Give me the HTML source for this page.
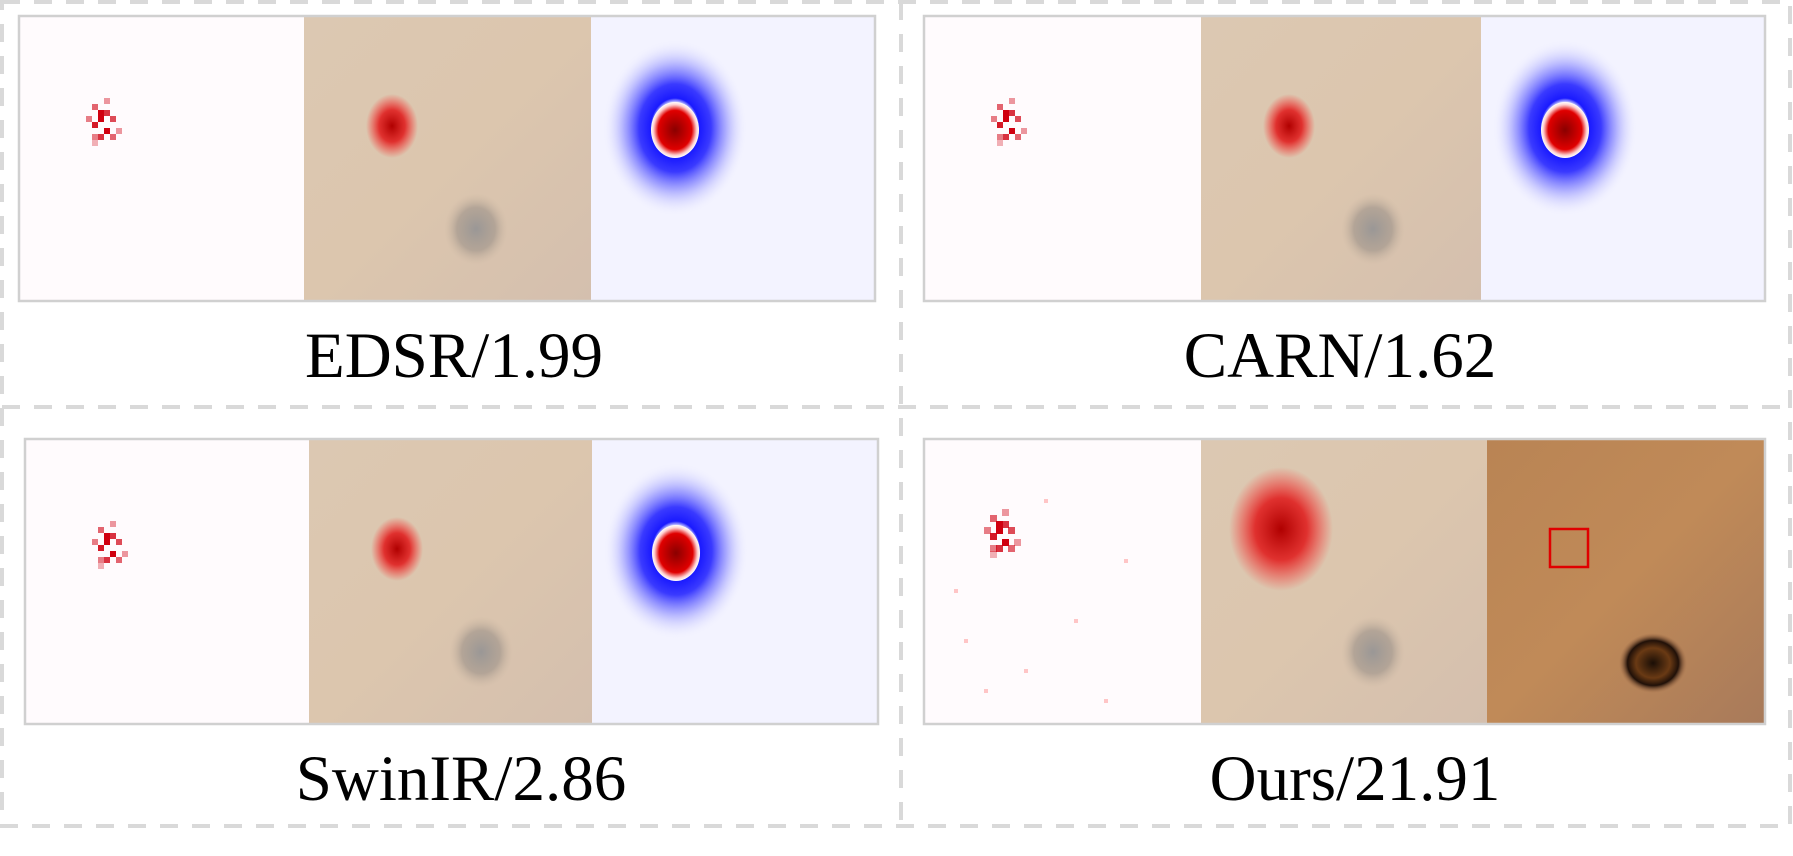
<!DOCTYPE html>
<html><head><meta charset="utf-8"><style>
html,body{margin:0;padding:0;background:#fff;}
svg{display:block;}
text{font-family:"Liberation Serif",serif;font-size:65px;fill:#000;}
</style></head><body>
<svg id="fig" width="1793" height="856" viewBox="0 0 1793 856" xmlns="http://www.w3.org/2000/svg">
<defs>
  <radialGradient id="redDot"><stop offset="0" stop-color="#b00000"/><stop offset="0.5" stop-color="#e02020" stop-opacity="0.9"/><stop offset="1" stop-color="#ff3030" stop-opacity="0"/></radialGradient>
  <radialGradient id="blueHalo"><stop offset="0.28" stop-color="#ffffff"/><stop offset="0.34" stop-color="#1a1aff"/><stop offset="0.5" stop-color="#3a3aff"/><stop offset="0.7" stop-color="#8a8aff" stop-opacity="0.7"/><stop offset="1" stop-color="#eeeeff" stop-opacity="0"/></radialGradient>
  <radialGradient id="redCore"><stop offset="0" stop-color="#8a0000"/><stop offset="0.7" stop-color="#e00000"/><stop offset="0.9" stop-color="#ffd0d0"/><stop offset="1" stop-color="#ffffff"/></radialGradient>
  <linearGradient id="fur" x1="0" y1="0" x2="1" y2="1"><stop offset="0" stop-color="#dcc8b2"/><stop offset="0.5" stop-color="#dcc6ae"/><stop offset="1" stop-color="#d4bfae"/></linearGradient>
  <linearGradient id="foxfur" x1="0" y1="0" x2="1" y2="1"><stop offset="0" stop-color="#b98454"/><stop offset="0.5" stop-color="#c08a58"/><stop offset="1" stop-color="#a87a5a"/></linearGradient>
  <radialGradient id="eye"><stop offset="0" stop-color="#8a8c90" stop-opacity="0.8"/><stop offset="0.6" stop-color="#9a9088" stop-opacity="0.6"/><stop offset="1" stop-color="#c8b4a0" stop-opacity="0"/></radialGradient>
  <radialGradient id="foxeye"><stop offset="0" stop-color="#1a0e06"/><stop offset="0.5" stop-color="#6a3a14"/><stop offset="0.75" stop-color="#201008"/><stop offset="1" stop-color="#a06a45" stop-opacity="0"/></radialGradient>
</defs>
<g fill="none" stroke="#d9d9d9" stroke-width="4" stroke-dasharray="18 14">
  <rect x="2" y="2" width="1788" height="824"/>
  <line x1="901" y1="2" x2="901" y2="826"/>
  <line x1="2" y1="407" x2="1790" y2="407"/>
</g>
<g id="panels"></g>
<text x="454" y="377" text-anchor="middle">EDSR/1.99</text>
<text x="1340" y="377" text-anchor="middle">CARN/1.62</text>
<text x="461" y="800" text-anchor="middle">SwinIR/2.86</text>
<text x="1355" y="800" text-anchor="middle">Ours/21.91</text>
</svg>
<script>
const NS="http://www.w3.org/2000/svg";
const root=document.getElementById('panels');
function mk(tag,attrs,parent){const e=document.createElementNS(NS,tag);for(const k in attrs)e.setAttribute(k,attrs[k]);(parent||root).appendChild(e);return e;}
const panels=[
 {name:'edsr',y:16,subs:[19,304,591,875],ours:false},
 {name:'carn',y:16,subs:[924,1201,1481,1765],ours:false},
 {name:'swinir',y:439,subs:[25,309,592,878],ours:false},
 {name:'ours',y:439,subs:[924,1201,1487,1765],ours:true}
];
const H=285;
const cluster=[[0,0,1],[6,-6,.8],[-6,6,.9],[6,12,1],[-6,-12,.6],[12,0,.7],[0,18,.8],[-12,0,.5],[12,18,.6],[6,-18,.4],[-6,24,.3],[18,12,.4],[0,-6,1],[-6,18,.5]];
panels.forEach(p=>{
  const g=mk('g',{});
  
  
  const [a,b,c,d]=p.subs, y=p.y;
  mk('rect',{x:a,y:y,width:b-a,height:H,fill:'#fffbfd'},g);
  const cx=a+(p.ours?82:89), cy=y+(p.ours?98:110), s=p.ours?7:6;
  cluster.forEach(q=>mk('rect',{x:cx+q[0]-10,y:cy+q[1]-10,width:s,height:s,fill:'#d00010','fill-opacity':q[2]},g));
  if(p.ours){[[40,200],[120,60],[150,180],[60,250],[200,120],[100,230],[30,150],[180,260]].forEach(q=>mk('rect',{x:a+q[0],y:y+q[1],width:4,height:4,fill:'#ff9090','fill-opacity':.5},g));}
  mk('rect',{x:b,y:y,width:c-b,height:H,fill:'url(#fur)'},g);
  mk('ellipse',{cx:b+172,cy:y+213,rx:32,ry:36,fill:'url(#eye)'},g);
  if(p.ours) mk('ellipse',{cx:b+80,cy:y+90,rx:52,ry:62,fill:'url(#redDot)'},g);
  else mk('ellipse',{cx:b+88,cy:y+110,rx:26,ry:32,fill:'url(#redDot)'},g);
  if(p.ours){
    mk('rect',{x:c,y:y,width:d-c,height:H,fill:'url(#foxfur)'},g);
    mk('ellipse',{cx:c+166,cy:y+224,rx:34,ry:30,fill:'url(#foxeye)'},g);
    const sq=mk('rect',{x:c+63,y:y+90,width:38,height:38,fill:'none',stroke:'#e00000','stroke-width':2.5},g);
    
    
  } else {
    mk('rect',{x:c,y:y,width:d-c,height:H,fill:'#f3f3ff'},g);
    mk('ellipse',{cx:c+84,cy:y+112,rx:72,ry:88,fill:'url(#blueHalo)'},g);
    mk('ellipse',{cx:c+84,cy:y+114,rx:24,ry:28,fill:'url(#redCore)'},g);
  }
  mk('rect',{x:a,y:y,width:d-a,height:H,fill:'none',stroke:'#d0d0d0','stroke-width':2.5},g);
});
</script>
</body></html>
